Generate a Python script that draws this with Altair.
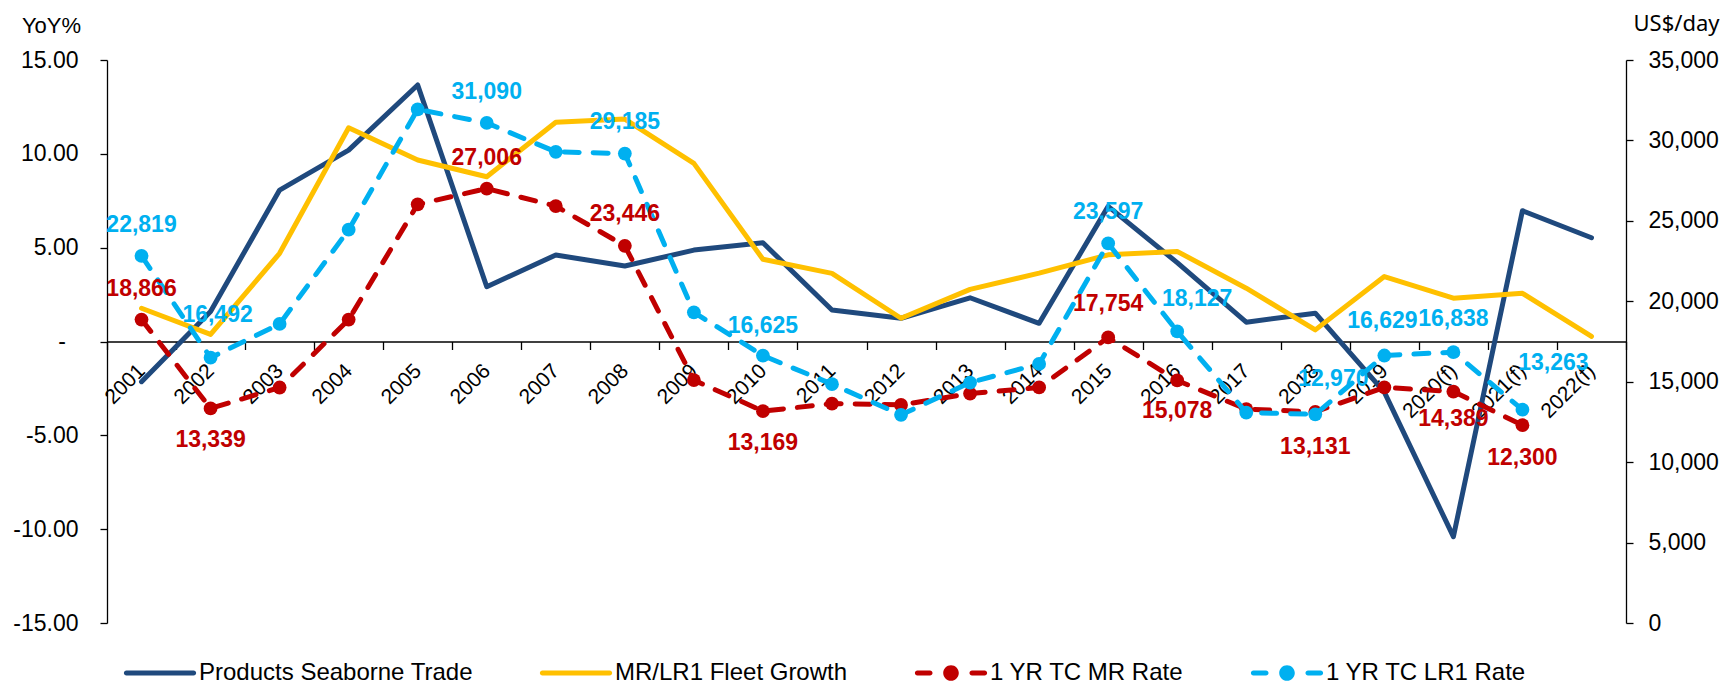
import altair as alt
import pandas as pd

# ---------------- data ----------------
years = ["2001", "2002", "2003", "2004", "2005", "2006", "2007", "2008", "2009", "2010",
         "2011", "2012", "2013", "2014", "2015", "2016", "2017", "2018", "2019",
         "2020(f)", "2021(f)", "2022(f)"]

trade = [-2.14, 1.60, 8.07, 10.20, 13.67, 2.92, 4.61, 4.02, 4.87, 5.26,
         1.68, 1.24, 2.33, 0.97, 7.20, 4.20, 1.03, 1.51, -2.70, -10.40, 6.97, 5.53]
fleet = [1.77, 0.38, 4.70, 11.39, 9.67, 8.78, 11.68, 11.85, 9.49, 4.38,
         3.63, 1.24, 2.78, 3.64, 4.62, 4.80, 2.84, 0.62, 3.46, 2.31, 2.57, 0.27]
mr_rate = [18866, 13339, 14640, 18860, 26030, 27006, 25920, 23446, 15100, 13169,
           13640, 13560, 14265, 14644, 17754, 15078, 13294, 13131, 14644, 14389, 12300, None]
lr1_rate = [22819, 16492, 18590, 24450, 31930, 31090, 29290, 29185, 19315, 16625,
            14850, 12940, 14950, 16106, 23597, 18127, 13081, 12970, 16629, 16838, 13263, None]

names = ["Products Seaborne Trade", "MR/LR1 Fleet Growth", "1 YR TC MR Rate", "1 YR TC LR1 Rate"]
colors = ["#1F497D", "#FFC000", "#C00000", "#00B0F0"]

# value labels: which points are labelled, and pixel offset of the label from its marker
mr_label_at = {"2001": (0, -31), "2002": (0, 32), "2006": (0, -31), "2008": (0, -32),
               "2010": (0, 32), "2015": (0, -33), "2016": (0, 31), "2018": (0, 35),
               "2020(f)": (0, 27), "2021(f)": (0, 33)}
lr1_label_at = {"2001": (0, -31), "2002": (7, -43), "2006": (0, -31), "2008": (0, -32),
                "2010": (0, -30), "2015": (0, -31), "2016": (20, -32), "2018": (18, -35),
                "2019": (-2, -35), "2020(f)": (0, -33), "2021(f)": (31, -47)}

left_ticks = [-15, -10, -5, 0, 5, 10, 15]
right_ticks = [0, 5000, 10000, 15000, 20000, 25000, 30000, 35000]

FONT = "Arial, Liberation Sans, sans-serif"


def frame(values, name):
    return pd.DataFrame({"year": years, "value": values, "series": name}).dropna(subset=["value"])


def label_frame(values, name, placement):
    rows = []
    for yr, v in zip(years, values):
        if yr in placement and v is not None:
            dx, dy = placement[yr]
            rows.append(dict(year=yr, value=v, series=name, text=f"{v:,}", dx=dx, dy=dy))
    return pd.DataFrame(rows)


# ---------------- encodings ----------------
PLOT_W, PLOT_H = 1519, 563

x_axis = alt.Axis(title=None, offset=-PLOT_H / 2, labelAngle=-45, labelAlign="right",
                  labelBaseline="middle", labelFontSize=21, labelPadding=18, tickSize=8,
                  tickBand="extent", labelOverlap=False, grid=False)
x_enc = alt.X("year:N", scale=alt.Scale(type="band", domain=years, paddingInner=0, paddingOuter=0),
              bandPosition=0.5, axis=x_axis)

y_left = alt.Y("value:Q",
               scale=alt.Scale(domain=[-15, 15], nice=False, zero=False),
               axis=alt.Axis(orient="left", values=left_ticks,
                             labelExpr="datum.value == 0 ? '' : (datum.value < 0 ? '-' : '') + format(abs(datum.value), '.2f')",
                             title="YoY%", titleAngle=0, titleX=-56, titleY=-35,
                             titleAlign="center", titleBaseline="middle", titleFontSize=22,
                             titleFontWeight="normal", labelPadding=22, tickSize=7, grid=False))

y_right = alt.Y("value:Q",
                scale=alt.Scale(domain=[0, 35000], nice=False),
                axis=alt.Axis(orient="right", values=right_ticks, format=",.0f",
                              title="US$/day", titleAngle=0, titleX=50, titleY=-37,
                              titleAlign="center", titleBaseline="middle", titleFontSize=22,
                              titleFont="Noto Sans", titleFontWeight="normal",
                              labelPadding=15, tickSize=7, grid=False))

LW = 5
DASH = [15, 14]

trade_line = alt.Chart(frame(trade, names[0])).mark_line(
    color=colors[0], strokeWidth=LW, strokeCap="round", strokeJoin="round").encode(x=x_enc, y=y_left)
fleet_line = alt.Chart(frame(fleet, names[1])).mark_line(
    color=colors[1], strokeWidth=LW, strokeCap="round", strokeJoin="round").encode(x=x_enc, y=y_left)
# Excel accounting format shows zero as a dash set in from the digits
zero_dash = alt.Chart(pd.DataFrame({"value": [0], "text": ["-"]})).mark_text(
    font=FONT, fontSize=23, color="black", align="center", baseline="middle", dx=-45
).encode(x=alt.value(0), y=y_left, text="text:N")
left_group = alt.layer(trade_line, fleet_line, zero_dash)


def rate_layers(values, name, color, placement):
    d = frame(values, name)
    line = alt.Chart(d).mark_line(color=color, strokeWidth=LW, strokeDash=DASH, strokeCap="round",
                                  strokeJoin="round").encode(x=x_enc, y=y_right)
    pts = alt.Chart(d).mark_point(filled=True, color=color, size=190, opacity=1).encode(x=x_enc, y=y_right)
    txt = alt.Chart(label_frame(values, name, placement)).mark_text(
        font=FONT, fontSize=23, fontWeight="bold", color=color, align="center", baseline="middle",
        dx=alt.ExprRef("datum.dx"), dy=alt.ExprRef("datum.dy")).encode(x=x_enc, y=y_right, text="text:N")
    return line, pts, txt


mr_line, mr_pts, mr_txt = rate_layers(mr_rate, names[2], colors[2], mr_label_at)
lr_line, lr_pts, lr_txt = rate_layers(lr1_rate, names[3], colors[3], lr1_label_at)
right_group = alt.layer(mr_line, mr_pts, lr_line, lr_pts, mr_txt, lr_txt)

# ---------------- legend (built from the series list) ----------------
# symbol box is 24px; paths reach +-3 units (=72px wide) so the entry stays short
solid = ("M-2.8,-0.21 L2.8,-0.21 A0.21,0.21 0 0 1 2.8,0.21 "
         "L-2.8,0.21 A0.21,0.21 0 0 1 -2.8,-0.21 Z")
dash_dot = ("M-2.8,-0.21 L-1.75,-0.21 A0.21,0.21 0 0 1 -1.75,0.21 "
            "L-2.8,0.21 A0.21,0.21 0 0 1 -2.8,-0.21 Z "
            "M1.75,-0.21 L2.8,-0.21 A0.21,0.21 0 0 1 2.8,0.21 "
            "L1.75,0.21 A0.21,0.21 0 0 1 1.75,-0.21 Z "
            "M-0.65,0 A0.65,0.65 0 1 0 0.65,0 A0.65,0.65 0 1 0 -0.65,0 Z")
shapes = [solid, solid, dash_dot, dash_dot]

leg = alt.Legend(title=None, orient="none", legendX=41, legendY=601, direction="horizontal", columns=4,
                 symbolSize=576, symbolStrokeWidth=0, symbolOpacity=1, labelFont=FONT,
                 labelFontSize=24, labelColor="black", labelOffset=27, labelLimit=400,
                 columnPadding=66, padding=0)
legend_layer = alt.Chart(pd.DataFrame({"series": names})).mark_point(filled=True, opacity=0).encode(
    color=alt.Color("series:N", scale=alt.Scale(domain=names, range=colors), legend=leg),
    shape=alt.Shape("series:N", scale=alt.Scale(domain=names, range=shapes), legend=leg),
)

chart = alt.layer(left_group, right_group, legend_layer).resolve_scale(y="independent").properties(
    width=PLOT_W, height=PLOT_H,
    padding={"left": 99, "top": 52, "right": 95, "bottom": 63},
    autosize=alt.AutoSizeParams(type="none"),
).configure_view(stroke=None).configure_axis(
    labelFont=FONT, titleFont=FONT, labelColor="black", titleColor="black",
    tickColor="black", domainColor="black", domainWidth=1.3, tickWidth=1.3, labelFontSize=23,
)

chart.save("out.html", embed_options={"renderer": "svg", "actions": False})
